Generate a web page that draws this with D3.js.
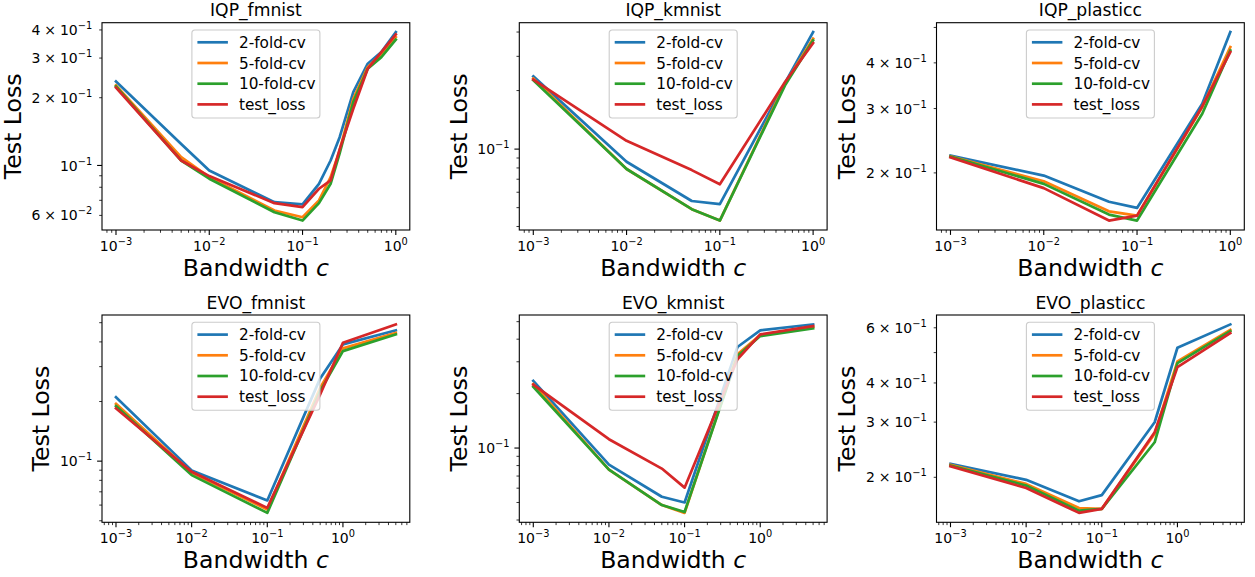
<!DOCTYPE html>
<html><head><meta charset="utf-8">
<script src="https://cdn.jsdelivr.net/npm/d3@7"></script>
<style>
html,body{margin:0;padding:0;background:#fff;}
svg{display:block;font-family:"DejaVu Sans",sans-serif;}
</style>
</head><body>
<svg id="chart" width="1255" height="577"></svg>
<script>
// ---------------- data ----------------
const seriesNames = ["2-fold-cv", "5-fold-cv", "10-fold-cv", "test_loss"];
const panelTitles = ["IQP_fmnist", "IQP_kmnist", "IQP_plasticc", "EVO_fmnist", "EVO_kmnist", "EVO_plasticc"];
const xLabelText = "Bandwidth ";
const xLabelItalic = "c";
const yLabelText = "Test Loss";
const xTickValues = [0.001, 0.01, 0.1, 1];

// IQP_fmnist
const iqpFmnistBandwidth = [0.001, 0.005, 0.01, 0.05, 0.1, 0.15, 0.2, 0.25, 0.35, 0.5, 0.7, 1.0];
const iqpFmnistCv2  = [0.2362, 0.1246, 0.0950, 0.0687, 0.0671, 0.0829, 0.1052, 0.1336, 0.2118, 0.2831, 0.3189, 0.3912];
const iqpFmnistCv5  = [0.2268, 0.1089, 0.0887, 0.0631, 0.0589, 0.0699, 0.0887, 0.1166, 0.1979, 0.2734, 0.3137, 0.3717];
const iqpFmnistCv10 = [0.2244, 0.1052, 0.0873, 0.0620, 0.0569, 0.0680, 0.0829, 0.1131, 0.1911, 0.2690, 0.3029, 0.3620];
const iqpFmnistTest = [0.2215, 0.1052, 0.0897, 0.0680, 0.0653, 0.0788, 0.0858, 0.1178, 0.1786, 0.2690, 0.3189, 0.3821];
const iqpFmnistYTicks = [0.06, 0.1, 0.2, 0.3, 0.4];

// IQP_kmnist
const iqpKmnistBandwidth = [0.001, 0.01, 0.05, 0.1, 0.5, 1.0];
const iqpKmnistCv2  = [0.2368, 0.0861, 0.0541, 0.0521, 0.2188, 0.3996];
const iqpKmnistCv5  = [0.2305, 0.0790, 0.0491, 0.0429, 0.2172, 0.3696];
const iqpKmnistCv10 = [0.2259, 0.0790, 0.0491, 0.0429, 0.2129, 0.3622];
const iqpKmnistTest = [0.2278, 0.1103, 0.0780, 0.0659, 0.2214, 0.3509];
const iqpKmnistYTicks = [0.1];

// IQP_plasticc
const iqpPlasticcBandwidth = [0.001, 0.01, 0.05, 0.1, 0.5, 1.0];
const iqpPlasticcCv2  = [0.2230, 0.1966, 0.1668, 0.1604, 0.3091, 0.4855];
const iqpPlasticcCv5  = [0.2220, 0.1897, 0.1570, 0.1528, 0.3026, 0.4417];
const iqpPlasticcCv10 = [0.2216, 0.1866, 0.1538, 0.1481, 0.2902, 0.4326];
const iqpPlasticcTest = [0.2206, 0.1817, 0.1481, 0.1528, 0.3039, 0.4279];
const iqpPlasticcYTicks = [0.2, 0.3, 0.4];

// EVO_fmnist
const evoFmnistBandwidth = [0.001, 0.01, 0.1, 0.5, 1.0, 5.0];
const evoFmnistCv2  = [0.2105, 0.0898, 0.0633, 0.2617, 0.3885, 0.4572];
const evoFmnistCv5  = [0.1947, 0.0873, 0.0570, 0.2345, 0.3709, 0.4446];
const evoFmnistCv10 = [0.1896, 0.0850, 0.0548, 0.2257, 0.3594, 0.4364];
const evoFmnistTest = [0.1846, 0.0883, 0.0581, 0.2172, 0.3958, 0.4901];
const evoFmnistYTicks = [0.1];

// EVO_kmnist
const evoKmnistBandwidth = [0.001, 0.01, 0.05, 0.1, 0.5, 1.0, 5.0];
const evoKmnistCv2  = [0.2355, 0.0809, 0.0538, 0.0500, 0.3622, 0.4473, 0.4827];
const evoKmnistCv5  = [0.2259, 0.0759, 0.0484, 0.0438, 0.3302, 0.4215, 0.4683];
const evoKmnistCv10 = [0.2183, 0.0759, 0.0484, 0.0443, 0.3231, 0.4162, 0.4586];
const evoKmnistTest = [0.2244, 0.1119, 0.0770, 0.0604, 0.3099, 0.4253, 0.4724];
const evoKmnistYTicks = [0.1];

// EVO_plasticc
const evoPlasticcBandwidth = [0.001, 0.01, 0.05, 0.1, 0.5, 1.0, 5.0];
const evoPlasticcCv2  = [0.2207, 0.1963, 0.1677, 0.1755, 0.2997, 0.5181, 0.6150];
const evoPlasticcCv5  = [0.2191, 0.1905, 0.1595, 0.1586, 0.2753, 0.4685, 0.5914];
const evoPlasticcCv10 = [0.2180, 0.1882, 0.1566, 0.1586, 0.2587, 0.4627, 0.5854];
const evoPlasticcTest = [0.2169, 0.1848, 0.1540, 0.1586, 0.2785, 0.4493, 0.5768];
const evoPlasticcYTicks = [0.2, 0.3, 0.4, 0.6];

// ---------------- styles / layout ----------------
const seriesColors = ["#1f77b4", "#ff7f0e", "#2ca02c", "#d62728"];
const colLeft = [102, 519.3, 936.5];
const rowTop = [22.7, 315];
const axW = 307.8, axH = 207.3;
const FS_TICK = 14, FS_LEG = 15.3, FS_TITLE = 17.2, FS_LABEL = 23.6;

const panels = [
  {title: panelTitles[0], x: iqpFmnistBandwidth, ys: [iqpFmnistCv2, iqpFmnistCv5, iqpFmnistCv10, iqpFmnistTest], yTicks: iqpFmnistYTicks},
  {title: panelTitles[1], x: iqpKmnistBandwidth, ys: [iqpKmnistCv2, iqpKmnistCv5, iqpKmnistCv10, iqpKmnistTest], yTicks: iqpKmnistYTicks},
  {title: panelTitles[2], x: iqpPlasticcBandwidth, ys: [iqpPlasticcCv2, iqpPlasticcCv5, iqpPlasticcCv10, iqpPlasticcTest], yTicks: iqpPlasticcYTicks},
  {title: panelTitles[3], x: evoFmnistBandwidth, ys: [evoFmnistCv2, evoFmnistCv5, evoFmnistCv10, evoFmnistTest], yTicks: evoFmnistYTicks},
  {title: panelTitles[4], x: evoKmnistBandwidth, ys: [evoKmnistCv2, evoKmnistCv5, evoKmnistCv10, evoKmnistTest], yTicks: evoKmnistYTicks},
  {title: panelTitles[5], x: evoPlasticcBandwidth, ys: [evoPlasticcCv2, evoPlasticcCv5, evoPlasticcCv10, evoPlasticcTest], yTicks: evoPlasticcYTicks}
];

const svg = d3.select("#chart");

function logDomain(vals) {
  const lo = Math.log10(d3.min(vals)), hi = Math.log10(d3.max(vals));
  const m = (hi - lo) * 0.05;
  return [Math.pow(10, lo - m), Math.pow(10, hi + m)];
}
function allTicks(domain) {
  const out = [];
  const k0 = Math.floor(Math.log10(domain[0])) - 1, k1 = Math.ceil(Math.log10(domain[1])) + 1;
  for (let k = k0; k <= k1; k++) {
    for (let m = 1; m <= 9; m++) {
      const v = m * Math.pow(10, k);
      if (v >= domain[0] * 0.9999 && v <= domain[1] * 1.0001) out.push({v, major: m === 1, m, k});
    }
  }
  return out;
}
function powLabel(sel, v, fs) {
  const e = Math.floor(Math.log10(v) + 1e-9);
  const c = Math.round(v / Math.pow(10, e));
  if (c !== 1) {
    sel.append("tspan").text(String(c));
    sel.append("tspan").attr("dx", fs * 0.28).text("\u00d7");
    sel.append("tspan").attr("dx", fs * 0.28).text("10");
  } else {
    sel.append("tspan").text("10");
  }
  sel.append("tspan").attr("dy", -fs * 0.43).attr("font-size", fs * 0.7)
    .text(e < 0 ? "\u2212" + (-e) : String(e));
}

panels.forEach((p, i) => {
  const left = colLeft[i % 3], top = rowTop[Math.floor(i / 3)];
  const g = svg.append("g").attr("transform", `translate(${left},${top})`);
  const xd = logDomain(p.x);
  const yd = logDomain(p.ys.flat());
  const x = d3.scaleLog().domain(xd).range([0, axW]);
  const y = d3.scaleLog().domain(yd).range([axH, 0]);

  // lines
  const line = d3.line().x(d => x(d[0])).y(d => y(d[1]));
  p.ys.forEach((vals, s) => {
    g.append("path")
      .attr("d", line(p.x.map((xv, j) => [xv, vals[j]])))
      .attr("fill", "none").attr("stroke", seriesColors[s])
      .attr("stroke-width", 2.7).attr("stroke-linejoin", "round").attr("stroke-linecap", "square");
  });

  // spines
  g.append("rect").attr("x", 0).attr("y", 0).attr("width", axW).attr("height", axH)
    .attr("fill", "none").attr("stroke", "#000").attr("stroke-width", 1.1);

  // x ticks
  const xg = g.append("g").attr("transform", `translate(0,${axH})`);
  allTicks(xd).forEach(t => {
    const px = x(t.v);
    xg.append("line").attr("x1", px).attr("x2", px).attr("y1", 0).attr("y2", t.major ? 4.9 : 2.8)
      .attr("stroke", "#000").attr("stroke-width", t.major ? 1.1 : 0.8);
  });
  xTickValues.filter(v => v >= xd[0] && v <= xd[1]).forEach(v => {
    const t = xg.append("text").attr("x", x(v)).attr("y", 20.7)
      .attr("text-anchor", "middle").attr("font-size", FS_TICK).attr("fill", "#000");
    powLabel(t, v, FS_TICK);
  });

  // y ticks
  const yg = g.append("g");
  allTicks(yd).forEach(t => {
    const py = y(t.v);
    yg.append("line").attr("x1", 0).attr("x2", t.major ? -4.9 : -2.8).attr("y1", py).attr("y2", py)
      .attr("stroke", "#000").attr("stroke-width", t.major ? 1.1 : 0.8);
  });
  const ylg = yg.append("g");
  p.yTicks.forEach(v => {
    const t = ylg.append("text").attr("x", -9.8).attr("y", y(v) + 5.1)
      .attr("text-anchor", "end").attr("font-size", FS_TICK).attr("fill", "#000");
    powLabel(t, v, FS_TICK);
  });
  const bb = ylg.node().getBBox();

  // y label
  g.append("text").attr("transform", `translate(${bb.x - 10.5},${axH / 2}) rotate(-90)`)
    .attr("text-anchor", "middle").attr("font-size", FS_LABEL).attr("fill", "#000").text(yLabelText);

  // x label
  const xl = g.append("text").attr("x", axW / 2).attr("y", axH + 46)
    .attr("text-anchor", "middle").attr("font-size", FS_LABEL).attr("fill", "#000");
  xl.append("tspan").text(xLabelText);
  xl.append("tspan").attr("font-style", "italic").text(xLabelItalic);

  // title
  g.append("text").attr("x", axW / 2).attr("y", -6.3).attr("text-anchor", "middle")
    .attr("font-size", FS_TITLE).attr("fill", "#000").text(p.title);

  // legend
  const lw = 128, lh = 88;
  const lg = g.append("g").attr("transform", `translate(${axW / 2 - lw / 2},7.3)`);
  lg.append("rect").attr("width", lw).attr("height", lh).attr("rx", 3).attr("ry", 3)
    .attr("fill", "#fff").attr("fill-opacity", 0.8).attr("stroke", "#cccccc").attr("stroke-width", 1.1);
  seriesNames.forEach((name, s) => {
    const cy = 12.3 + s * 20.7;
    lg.append("line").attr("x1", 5.5).attr("x2", 36).attr("y1", cy).attr("y2", cy)
      .attr("stroke", seriesColors[s]).attr("stroke-width", 2.7);
    lg.append("text").attr("x", 47).attr("y", cy + 5.5).attr("font-size", FS_LEG).attr("fill", "#000").text(name);
  });
});
</script>
</body></html>
